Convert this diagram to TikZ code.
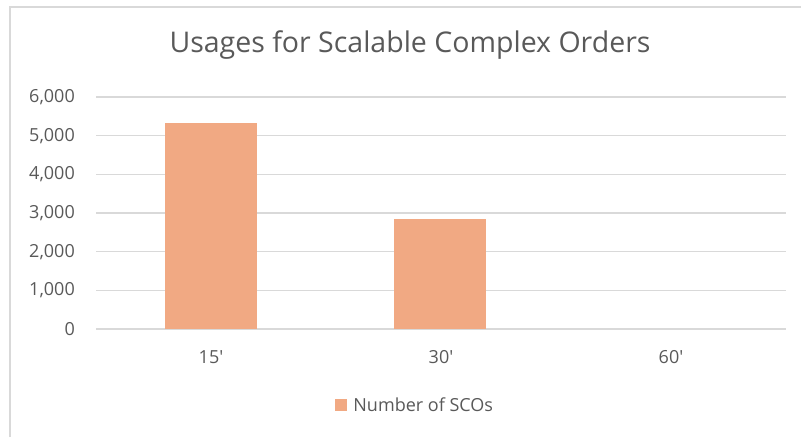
\documentclass[tikz,border=0pt]{standalone}
\usepackage{fontspec}
\setmainfont{Open Sans}
\usetikzlibrary{positioning}
\definecolor{barOrange}{RGB}{241,169,131}
\definecolor{gridGray}{RGB}{217,217,217}
\definecolor{textGray}{RGB}{89,89,89}
\begin{document}
\begin{tikzpicture}[x=1pt, y=-1pt,
    every node/.style={font=\fontsize{18}{21}\selectfont, text=textGray, inner sep=0pt},
    bar/.style={fill=barOrange, minimum width=92pt, anchor=south}]
  \useasboundingbox (0,0) rectangle (801,437);
  % Frame
  \draw[gridGray, line width=1.5pt] (10,437) -- (10,7) -- (801,7);
  % Title
  \node[font=\fontsize{28.5}{33}\selectfont] (title) at (410,45) {Usages for Scalable Complex Orders};
  % Grid lines and value labels
  \foreach \k/\lab in {0/0,1/{1,000},2/{2,000},3/{3,000},4/{4,000},5/{5,000},6/{6,000}} {
    \draw[gridGray, line width=1.2pt] (96,{329-38.67*\k}) -- (786,{329-38.67*\k});
    \node[anchor=east] (val\k) at (75,{329-38.67*\k}) {\lab};
  }
  % Bars
  \node[bar, minimum height=206pt] (bar15) at (211,329) {};
  \node[bar, minimum height=110pt] (bar30) at (440,329) {};
  % Categories
  \node (cat15) at (211,357) {15\textquotesingle};
  \node (cat30) at (441,357) {30\textquotesingle};
  \node (cat60) at (671,357) {60\textquotesingle};
  % Legend
  \node[fill=barOrange, minimum size=12pt] (legkey) at (341,405) {};
  \node[right=6pt of legkey] (legtext) {Number of SCOs};
\end{tikzpicture}
\end{document}
